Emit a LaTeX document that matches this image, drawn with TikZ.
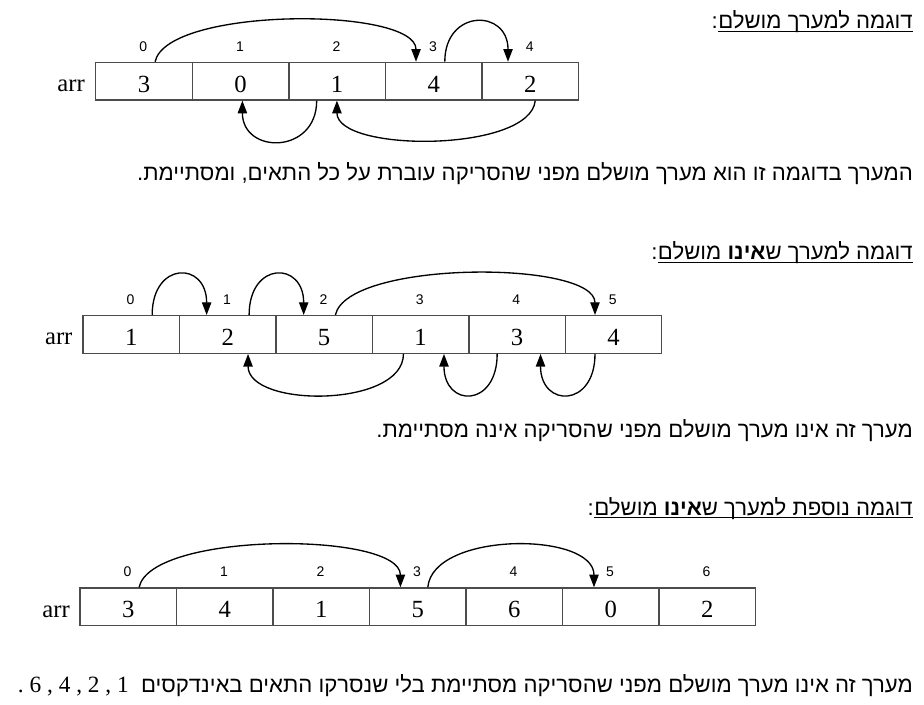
\documentclass[tikz,border=0pt]{standalone}
\usepackage{fontspec}
\setmainfont{Liberation Serif}
\newfontfamily\heb[Script=Hebrew]{Liberation Sans}
\newfontfamily\idxfont{Liberation Sans}
\usetikzlibrary{arrows.meta,calc}
\TeXXeTstate=1
\begin{document}
\begin{tikzpicture}[x=0.75pt,y=-0.75pt,
  cell/.style={draw=black!70, line width=1pt, minimum width=72.4pt, minimum height=28.2pt,
    inner sep=0pt, anchor=north west, font=\fontsize{18.5}{20}\selectfont, text height=16.8pt},
  idx/.style={font=\idxfont\fontsize{10.5}{12}\selectfont, inner sep=0pt},
  lbl/.style={font=\fontsize{18.5}{20}\selectfont, inner sep=0pt, anchor=base east},
  conn/.style={line width=1pt, -{Triangle[length=9.5pt,width=7pt]}},
  hebtxt/.style={font=\heb\fontsize{16.6}{18}\selectfont, inner sep=0pt, anchor=base east},
  uline/.style={line width=0.8pt}]
\useasboundingbox (0,0) rectangle (924,705);

% ---------- Example 1 ----------
\node[hebtxt] (h1) at (913,28.5) {\beginR דוגמה למערך מושלם\endR};
\node[hebtxt] (h1c) at (h1.base west) {:};
\draw[uline] ([yshift=-2.2pt]h1.base west) -- ([yshift=-2.2pt]h1.base east);

\foreach \v [count=\i from 0] in {3,0,1,4,2} {
  \node[cell] (a\i) at ({95+96.6*\i},61.7) {\v};
  \node[idx] (ai\i) at ({95+96.6*(\i+0.5)},46.5) {\i};
}
\node[lbl] (arrA) at (85,91.5) {arr};

\draw[conn] ($(a0.north west)!0.614!(a0.north east)$) .. controls +(12,-55) and +(0,-55) .. ($(a3.north west)!0.319!(a3.north east)$);
\draw[conn] ($(a3.north west)!0.613!(a3.north east)$) .. controls +(0,-53) and +(0,-53) .. ($(a4.north west)!0.272!(a4.north east)$);
\draw[conn] ($(a2.south west)!0.291!(a2.south east)$) .. controls +(0,54) and +(0,54) .. ($(a1.south west)!0.519!(a1.south east)$);
\draw[conn] ($(a4.south west)!0.55!(a4.south east)$) .. controls +(-5,52) and +(0,52) .. ($(a2.south west)!0.498!(a2.south east)$);

\node[hebtxt] (s1) at (913,180.5) {\beginR המערך בדוגמה זו הוא מערך מושלם מפני שהסריקה עוברת על כל התאים, ומסתיימת.\endR};

% ---------- Example 2 ----------
\node[hebtxt] (h2) at (913,259.5) {\beginR דוגמה למערך ש{\bfseries אינו} מושלם\endR};
\node[hebtxt] (h2c) at (h2.base west) {:};
\draw[uline] ([yshift=-2.2pt]h2.base west) -- ([yshift=-2.2pt]h2.base east);

\foreach \v [count=\i from 0] in {1,2,5,1,3,4} {
  \node[cell] (b\i) at ({82.3+96.45*\i},315) {\v};
  \node[idx] (bi\i) at ({82.3+96.45*(\i+0.5)},299.3) {\i};
}
\node[lbl] (arrB) at (72.7,344.5) {arr};

\draw[conn] ($(b0.north west)!0.714!(b0.north east)$) .. controls +(0,-54) and +(0,-54) .. ($(b1.north west)!0.285!(b1.north east)$);
\draw[conn] ($(b1.north west)!0.719!(b1.north east)$) .. controls +(0,-54) and +(0,-54) .. ($(b2.north west)!0.291!(b2.north east)$);
\draw[conn] ($(b2.north west)!0.615!(b2.north east)$) .. controls +(12,-55) and +(0,-55) .. ($(b5.north west)!0.311!(b5.north east)$);
\draw[conn] ($(b3.south west)!0.325!(b3.south east)$) .. controls +(0,54) and +(0,54) .. ($(b1.south west)!0.708!(b1.south east)$);
\draw[conn] ($(b4.south west)!0.297!(b4.south east)$) .. controls +(0,54) and +(0,54) .. ($(b3.south west)!0.739!(b3.south east)$);
\draw[conn] ($(b5.south west)!0.311!(b5.south east)$) .. controls +(0,54) and +(0,54) .. ($(b4.south west)!0.740!(b4.south east)$);

\node[hebtxt] (s2) at (913,437.5) {\beginR מערך זה אינו מערך מושלם מפני שהסריקה אינה מסתיימת.\endR};

% ---------- Example 3 ----------
\node[hebtxt] (h3) at (913,515) {\beginR דוגמה נוספת למערך ש{\bfseries אינו} מושלם\endR};
\node[hebtxt] (h3c) at (h3.base west) {:};
\draw[uline] ([yshift=-2.2pt]h3.base west) -- ([yshift=-2.2pt]h3.base east);

\foreach \v [count=\i from 0] in {3,4,1,5,6,0,2} {
  \node[cell] (c\i) at ({79.3+96.5*\i},587.3) {\v};
  \node[idx] (ci\i) at ({79.3+96.5*(\i+0.5)},571.7) {\i};
}
\node[lbl] (arrC) at (70,617) {arr};

\draw[conn] ($(c0.north west)!0.611!(c0.north east)$) .. controls +(12,-56) and +(0,-56) .. ($(c3.north west)!0.323!(c3.north east)$);
\draw[conn] ($(c3.north west)!0.603!(c3.north east)$) .. controls +(5,-56) and +(0,-56) .. ($(c5.north west)!0.329!(c5.north east)$);

\node[hebtxt] (s3) at (913,692) {\beginR מערך זה אינו מערך מושלם מפני שהסריקה מסתיימת בלי שנסרקו התאים באינדקסים\ \ {\rmfamily\fontsize{17.5}{18}\selectfont 1 , 2 , 4 , 6 .}\endR};
\end{tikzpicture}
\end{document}
